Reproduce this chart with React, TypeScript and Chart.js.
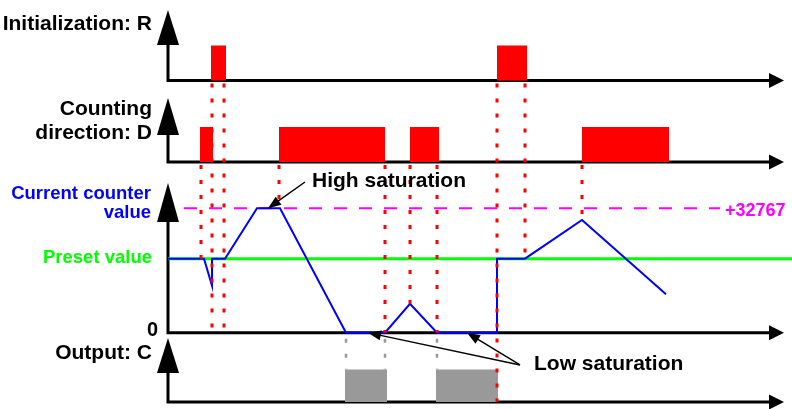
import React, { useEffect, useRef } from "react";
import { Chart, registerables } from "chart.js";

Chart.register(...registerables);

// ---------- data (time in arbitrary units along the common time axis) ----------
const T_END = 624;
const R_PULSES: number[][] = [[43, 58], [329, 359]];
const D_PULSES: number[][] = [[32, 45], [111, 217], [242, 271], [414, 501]];
const OUT_PULSES: number[][] = [[177, 219], [268, 330]];
const COUNTER_T = [0, 36, 44, 44, 57, 89, 112, 178, 217, 242, 269, 329, 329, 357, 414, 498];
const COUNTER_V = [19500, 19500, 12400, 19500, 19500, 32767, 32767, 0, 0, 7600, 0, 0, 19500, 19500, 29700, 10100];
const PRESET = 19500;
const MAX_COUNT = 32767;
const LIMIT_SPAN = [16, 552];
const LIMIT_LABEL = "+32767";

// event guides: time, lane where it starts (at 0), lane/value where it ends
const RED_GUIDES = [
  { t: 33, from: "yD", to: "yC", v: PRESET },
  { t: 44, from: "yR", to: "yC", v: 0 },
  { t: 56, from: "yR", to: "yC", v: 0 },
  { t: 111, from: "yD", to: "yC", v: MAX_COUNT },
  { t: 217, from: "yD", to: "yC", v: 0 },
  { t: 242, from: "yD", to: "yC", v: 7600 },
  { t: 269, from: "yD", to: "yC", v: 0 },
  { t: 329, from: "yR", to: "yO", v: 0 },
  { t: 357, from: "yR", to: "yC", v: PRESET },
  { t: 414, from: "yD", to: "yC", v: 29700 },
];
const GRAY_GUIDES = [178, 217, 269];

// ---------- layout ----------
const W = 792;
const H = 409;
const LEFT = 168;
function laneRange(basePx: number, refPx: number, refVal: number) {
  const ppu = (basePx - refPx) / refVal;
  return { min: -(H - basePx) / ppu, max: basePx / ppu };
}
const LANES = [
  { id: "yR", range: laneRange(80.5, 45.5, 1), tip: 10, head: 45 },
  { id: "yD", range: laneRange(162, 127, 1), tip: 98, head: 135 },
  { id: "yC", range: laneRange(332.7, 208.3, MAX_COUNT), tip: 183, head: 222 },
  { id: "yO", range: laneRange(402, 369.5, 1), tip: 338, head: 373 },
];

const FONT = '"Liberation Sans", Arial, sans-serif';
const RED = "#ff0000";
const BLUE = "#0000ff";
const GREEN = "#00ff00";
const MAGENTA = "#ff00ff";
const GRAY = "#999999";

function pulsePoints(pulses: number[][]) {
  const pts: { x: number; y: number }[] = [{ x: 0, y: 0 }];
  pulses.forEach(([a, b]) => {
    pts.push({ x: a, y: 0 }, { x: a, y: 1 }, { x: b, y: 1 }, { x: b, y: 0 });
  });
  pts.push({ x: T_END, y: 0 });
  return pts;
}

function arrowHead(ctx: CanvasRenderingContext2D, x1: number, y1: number, x2: number, y2: number, len: number, half: number) {
  const a = Math.atan2(y2 - y1, x2 - x1);
  const bx = x2 - len * Math.cos(a);
  const by = y2 - len * Math.sin(a);
  ctx.beginPath();
  ctx.moveTo(x2, y2);
  ctx.lineTo(bx + half * Math.sin(a), by - half * Math.cos(a));
  ctx.lineTo(bx - half * Math.sin(a), by + half * Math.cos(a));
  ctx.closePath();
  ctx.fill();
}

const overlay = {
  id: "overlay",
  beforeDatasetsDraw(chart: any) {
    const ctx: CanvasRenderingContext2D = chart.ctx;
    const x0 = chart.scales.x.getPixelForValue(0);
    ctx.save();
    ctx.strokeStyle = "#000";
    ctx.lineWidth = 3;
    LANES.forEach((l) => {
      const base = chart.scales[l.id].getPixelForValue(0);
      ctx.beginPath();
      ctx.moveTo(x0 - 1.5, base);
      ctx.lineTo(771, base);
      ctx.moveTo(x0, base);
      ctx.lineTo(x0, l.head);
      ctx.stroke();
    });
    ctx.restore();
  },
  afterDatasetsDraw(chart: any) {
    const ctx: CanvasRenderingContext2D = chart.ctx;
    const sx = chart.scales.x;
    const x0 = sx.getPixelForValue(0);
    ctx.save();
    // guides
    ctx.lineCap = "butt";
    ctx.setLineDash([4, 11]);
    ctx.lineWidth = 3;
    ctx.strokeStyle = RED;
    RED_GUIDES.forEach((g) => {
      const x = Math.round(sx.getPixelForValue(g.t));
      ctx.beginPath();
      ctx.moveTo(x, chart.scales[g.from].getPixelForValue(0) + 3);
      ctx.lineTo(x, chart.scales[g.to].getPixelForValue(g.v));
      ctx.stroke();
    });
    ctx.strokeStyle = GRAY;
    ctx.lineWidth = 2.5;
    GRAY_GUIDES.forEach((t) => {
      const x = Math.round(sx.getPixelForValue(t));
      ctx.beginPath();
      ctx.moveTo(x, chart.scales.yC.getPixelForValue(0) + 6);
      ctx.lineTo(x, chart.scales.yO.getPixelForValue(1));
      ctx.stroke();
    });
    ctx.setLineDash([]);

    // axis arrowheads
    ctx.fillStyle = "#000";
    LANES.forEach((l) => {
      const base = chart.scales[l.id].getPixelForValue(0);
      ctx.beginPath();
      ctx.moveTo(x0, l.tip);
      ctx.lineTo(x0 - 11, l.head);
      ctx.lineTo(x0 + 11, l.head);
      ctx.closePath();
      ctx.fill();
      ctx.beginPath();
      ctx.moveTo(784, base);
      ctx.lineTo(769, base - 7.5);
      ctx.lineTo(769, base + 7.5);
      ctx.closePath();
      ctx.fill();
    });

    // annotation arrows
    const yC = chart.scales.yC;
    const yO = chart.scales.yO;
    ctx.strokeStyle = "#000";
    ctx.lineWidth = 1.5;
    const arrows = [
      [sx.getPixelForValue(137), 182, sx.getPixelForValue(100), yC.getPixelForValue(MAX_COUNT)],
      [sx.getPixelForValue(352), yO.getPixelForValue(1.14), sx.getPixelForValue(200), yC.getPixelForValue(0)],
      [sx.getPixelForValue(352), yO.getPixelForValue(1.14), sx.getPixelForValue(299), yC.getPixelForValue(0)],
    ];
    arrows.forEach(([a, b, c, d]) => {
      const ang = Math.atan2(d - b, c - a);
      ctx.beginPath();
      ctx.moveTo(a, b);
      ctx.lineTo(c - 8 * Math.cos(ang), d - 8 * Math.sin(ang));
      ctx.stroke();
      arrowHead(ctx, a, b, c, d, 13, 5);
    });

    // texts
    const txt = (s: string, x: number, y: number, align: CanvasTextAlign, color: string, size: number) => {
      ctx.font = `bold ${size}px ${FONT}`;
      ctx.fillStyle = color;
      ctx.textAlign = align;
      ctx.textBaseline = "alphabetic";
      ctx.fillText(s, x, y);
    };
    txt("Initialization: R", 152, 30, "right", "#000", 21);
    txt("Counting", 152, 115, "right", "#000", 21);
    txt("direction: D", 152, 139, "right", "#000", 21);
    txt("Current counter", 151, 199, "right", BLUE, 18.5);
    txt("value", 151, 218, "right", BLUE, 18.5);
    txt("Preset value", 152, 263, "right", GREEN, 18.5);
    txt("0", 158, 336, "right", "#000", 20);
    txt("Output: C", 152, 359, "right", "#000", 21);
    txt("High saturation", 312, 187, "left", "#000", 21);
    txt("Low saturation", 534, 370, "left", "#000", 21);
    txt(LIMIT_LABEL, 725, 216, "left", MAGENTA, 18);
    ctx.restore();
  },
};

export default function App() {
  const ref = useRef<HTMLCanvasElement | null>(null);
  useEffect(() => {
    if (!ref.current) return;
    const scales: any = {
      x: { type: "linear", min: 0, max: T_END, display: false },
    };
    LANES.forEach((l) => {
      scales[l.id] = { type: "linear", display: false, min: l.range.min, max: l.range.max };
    });
    const base = { pointRadius: 0, tension: 0, showLine: true };
    const chart = new Chart(ref.current, {
      type: "line",
      data: {
        datasets: [
          {
            ...base,
            label: "Counter",
            data: COUNTER_T.map((t, i) => ({ x: t, y: COUNTER_V[i] })),
            yAxisID: "yC",
            borderColor: BLUE,
            borderWidth: 2,
            fill: false,
            order: 0,
          },
          {
            ...base,
            label: "Preset",
            data: [{ x: 0, y: PRESET }, { x: T_END, y: PRESET }],
            yAxisID: "yC",
            borderColor: GREEN,
            borderWidth: 3,
            fill: false,
            order: 1,
          },
          {
            ...base,
            label: "Max",
            data: [{ x: LIMIT_SPAN[0], y: MAX_COUNT }, { x: LIMIT_SPAN[1], y: MAX_COUNT }],
            yAxisID: "yC",
            borderColor: MAGENTA,
            borderWidth: 2,
            borderDash: [13, 12],
            fill: false,
            order: 2,
          },
          {
            ...base,
            label: "R",
            data: pulsePoints(R_PULSES),
            yAxisID: "yR",
            borderWidth: 0,
            borderColor: "rgba(0,0,0,0)",
            backgroundColor: RED,
            fill: "origin",
            order: 3,
          },
          {
            ...base,
            label: "D",
            data: pulsePoints(D_PULSES),
            yAxisID: "yD",
            borderWidth: 0,
            borderColor: "rgba(0,0,0,0)",
            backgroundColor: RED,
            fill: "origin",
            order: 3,
          },
          {
            ...base,
            label: "C",
            data: pulsePoints(OUT_PULSES),
            yAxisID: "yO",
            borderWidth: 0,
            borderColor: "rgba(0,0,0,0)",
            backgroundColor: GRAY,
            fill: "origin",
            order: 3,
          },
        ],
      } as any,
      options: {
        animation: false,
        responsive: false,
        devicePixelRatio: 1,
        layout: { padding: { left: LEFT, right: 0, top: 0, bottom: 0 } },
        scales,
        plugins: { legend: { display: false }, tooltip: { enabled: false } },
        events: [],
      } as any,
      plugins: [overlay],
    });
    return () => chart.destroy();
  }, []);
  return (
    <div style={{ position: "absolute", left: 0, top: 0, width: W, height: H, background: "#fff" }}>
      <canvas ref={ref} width={W} height={H} style={{ width: W, height: H, display: "block" }} />
    </div>
  );
}
